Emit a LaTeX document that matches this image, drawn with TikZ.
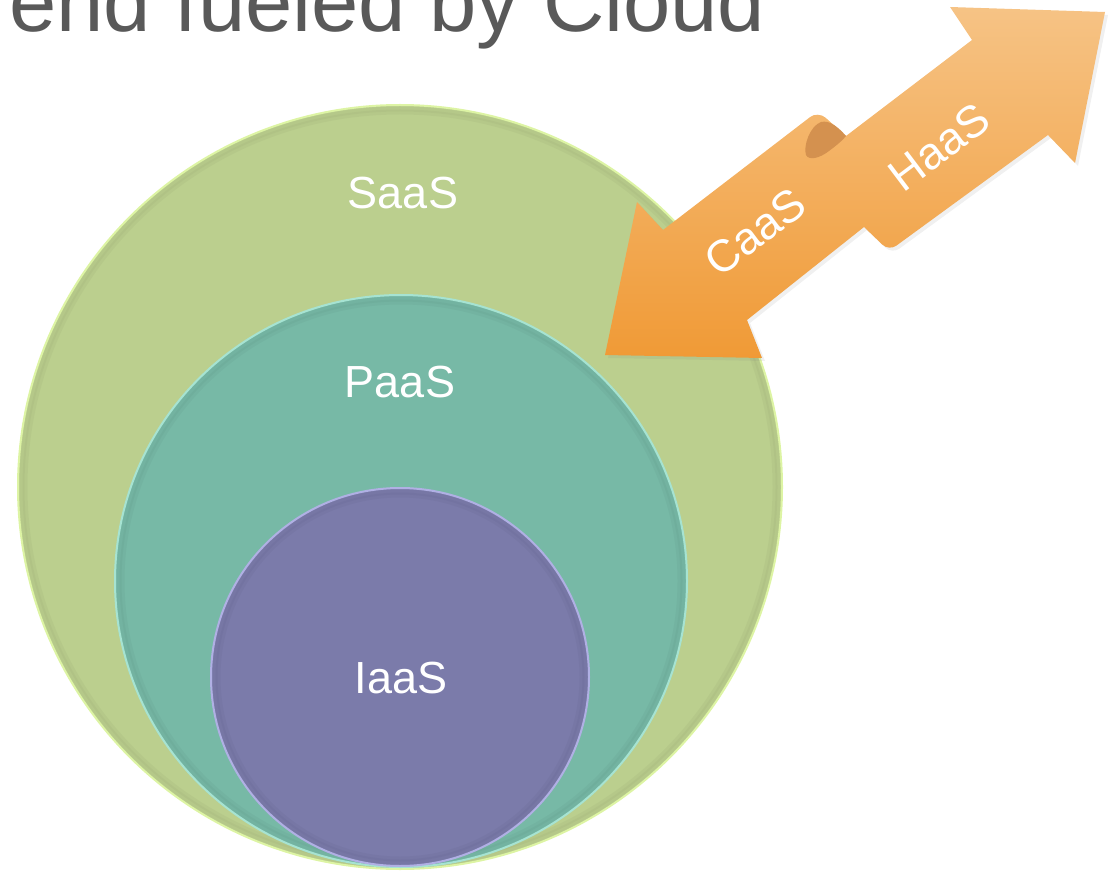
\documentclass[tikz,border=0pt]{standalone}
\usepackage{fontspec}
\setmainfont{Liberation Sans}
\usetikzlibrary{shadows}
\definecolor{titlegray}{HTML}{595959}
\definecolor{saasfill}{HTML}{BBCF8E}
\definecolor{saasrim}{HTML}{DDF4A4}
\definecolor{saasdark}{HTML}{8E9C6A}
\definecolor{paasfill}{HTML}{77B9A6}
\definecolor{paasrim}{HTML}{A6E3D2}
\definecolor{paasdark}{HTML}{5A8C7E}
\definecolor{iaasfill}{HTML}{7B7BAA}
\definecolor{iaasrim}{HTML}{B0B0E4}
\definecolor{iaasdark}{HTML}{5E5E86}
\definecolor{arrtop}{HTML}{F6C385}
\definecolor{arrbot}{HTML}{F09A36}
\definecolor{folddark}{HTML}{D4914F}
\begin{document}
\begin{tikzpicture}[x=1pt,y=-1pt,
  ring/.style={circle, inner sep=0pt, outer sep=0pt, line width=2pt},
  bevel/.style={line width=5pt, opacity=0.12},
  lab/.style={text=white, font=\fontsize{45}{45}\selectfont, inner sep=0pt},
  ribbon/.style={shade, top color=arrtop, bottom color=arrbot,
    drop shadow={opacity=0.12, shadow xshift=3pt, shadow yshift=-3pt}},
]
\useasboundingbox (0,0) rectangle (1113,874);
\node[anchor=base west, inner sep=0pt, text=titlegray,
  font=\fontsize{85}{85}\selectfont] (title) at (9,32) {end fueled by Cloud};

% nested circles
\node[ring, fill=saasfill, draw=saasrim, minimum size=764pt] (saas) at (400,487) {};
\draw[bevel, saasdark] (saas.center) circle[radius=378];
\draw[bevel, saasdark] (saas.center) circle[radius=375];
\node[ring, fill=paasfill, draw=paasrim, minimum size=572pt] (paas) at (401,581) {};
\draw[bevel, paasdark] (paas.center) circle[radius=282];
\draw[bevel, paasdark] (paas.center) circle[radius=279];
\node[ring, fill=iaasfill, draw=iaasrim, minimum size=378pt] (iaas) at (400,677) {};
\draw[bevel, iaasdark] (iaas.center) circle[radius=185];
\draw[bevel, iaasdark] (iaas.center) circle[radius=182];

\node[lab] (saasl) at (403,193) {SaaS};
\node[lab] (paasl) at (400,382) {PaaS};
\node[lab] (iaasl) at (401,678) {IaaS};

% double arrow with twist
\coordinate (p1) at (605,355);
\coordinate (p2) at (637,202);
\coordinate (p3) at (663,230);
\coordinate (p4) at (818,111);
\coordinate (p5) at (846,136);
\coordinate (p6) at (972,40);
\coordinate (p7) at (950,7);
\coordinate (p8) at (1105,12);
\coordinate (p9) at (1075,163);
\coordinate (p10) at (1048,135);
\coordinate (p11) at (889,251);
\coordinate (p12) at (864,227);
\coordinate (p13) at (747,320);
\coordinate (p14) at (762,358);
\path[ribbon] (p1) -- (p2) -- (p3) [rounded corners=10pt] -- (p4) [sharp corners] -- (p5)
  -- (p6) -- (p7) -- (p8) -- (p9) -- (p10) [rounded corners=9pt] -- (p11) [sharp corners]
  -- (p12) -- (p13) -- (p14) -- cycle;
\fill[folddark] (p5) .. controls (838,127) and (830,120) .. (821,122)
  .. controls (810,126) and (803,146) .. (806,155)
  .. controls (809,161) and (820,158) .. (829,151)
  .. controls (837,145) and (843,140) .. (p5);

\node[lab, rotate=37] (caas) at (755,232) {CaaS};
\node[lab, rotate=37] (haas) at (939,147) {HaaS};
\end{tikzpicture}
\end{document}
